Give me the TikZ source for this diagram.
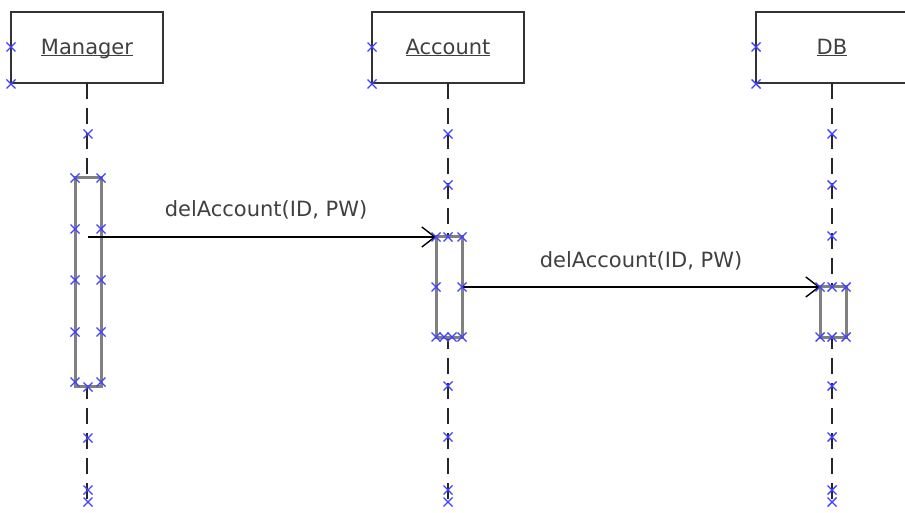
\documentclass[tikz,border=0pt]{standalone}
\usepackage{fontspec}
\setmainfont{DejaVu Sans}
\usetikzlibrary{positioning,arrows.meta}

\newcommand{\objname}[1]{\underline{\raisebox{0pt}[\height][0pt]{#1}}}

\begin{document}
\begin{tikzpicture}[
    x=1pt, y=-1pt,
    every node/.style={font=\fontsize{21}{24}\selectfont, text=black!75},
    objbox/.style={draw=black!80, line width=2.2pt, minimum width=152pt, minimum height=71pt, inner sep=0pt, outer sep=0pt},
    actbox/.style={draw=black!50, fill=white, line width=3pt, minimum width=26pt, inner sep=0pt, outer sep=0pt},
    lifeline/.style={draw=black!85, line width=2.2pt, dash pattern=on 16pt off 9pt},
    msg/.style={draw=black, line width=1.6pt, -{Straight Barb[length=13pt,width=20pt,line width=1.4pt]}},
    handle/.style={draw=blue!75, line width=1.4pt}
]
\useasboundingbox (0,0) rectangle (905,513);
\clip (0,0) rectangle (905,513);

% objects
\node[objbox, anchor=north west] (mgr) at (11,12) {\objname{Manager}};
\node[objbox, right=209pt of mgr] (acc) {\objname{Account}};
\node[objbox, right=232pt of acc] (db) {\objname{DB}};

% lifelines
\draw[lifeline] (mgr.south) -- (mgr.south |- 0,505);
\draw[lifeline] (acc.south) -- (acc.south |- 0,505);
\draw[lifeline] (db.south) -- (db.south |- 0,505);

% activations
\node[actbox, minimum height=208pt] (mgract) at (88,282) {};
\node[actbox, minimum height=100pt] (accact) at (449,287) {};
\node[actbox, minimum height=51pt] (dbact) at (833,312) {};

% messages
\coordinate (m1) at (mgract |- accact.north);
\draw[msg] (m1) -- (accact.north west) node[midway, above=14pt, xshift=4pt] {delAccount(ID, PW)};
\draw[msg] (accact.east) -- (dbact.west |- accact.east) node[midway, above=13pt] {delAccount(ID, PW)};

% selection handles
\foreach \hx/\hy in {11/47, 11/84, 372/47, 372/84, 756/47, 756/84,
    88/134, 75/178, 101/178, 75/229, 101/229, 75/280, 101/280, 75/332, 101/332,
    75/382, 101/382, 88/387, 88/438, 88/490, 88/502,
    448/134, 448/185, 436/237, 448/237, 462/237, 436/287, 462/287,
    436/337, 444/337, 452/337, 462/337, 448/386, 448/437, 448/490, 448/502,
    832/134, 832/185, 832/236, 820/287, 832/287, 846/287,
    820/337, 832/337, 846/337, 832/386, 832/437, 832/490, 832/502}
  \draw[handle] (\hx,\hy) +(-4.5,-4.5) -- +(4.5,4.5) +(-4.5,4.5) -- +(4.5,-4.5);

\end{tikzpicture}
\end{document}
